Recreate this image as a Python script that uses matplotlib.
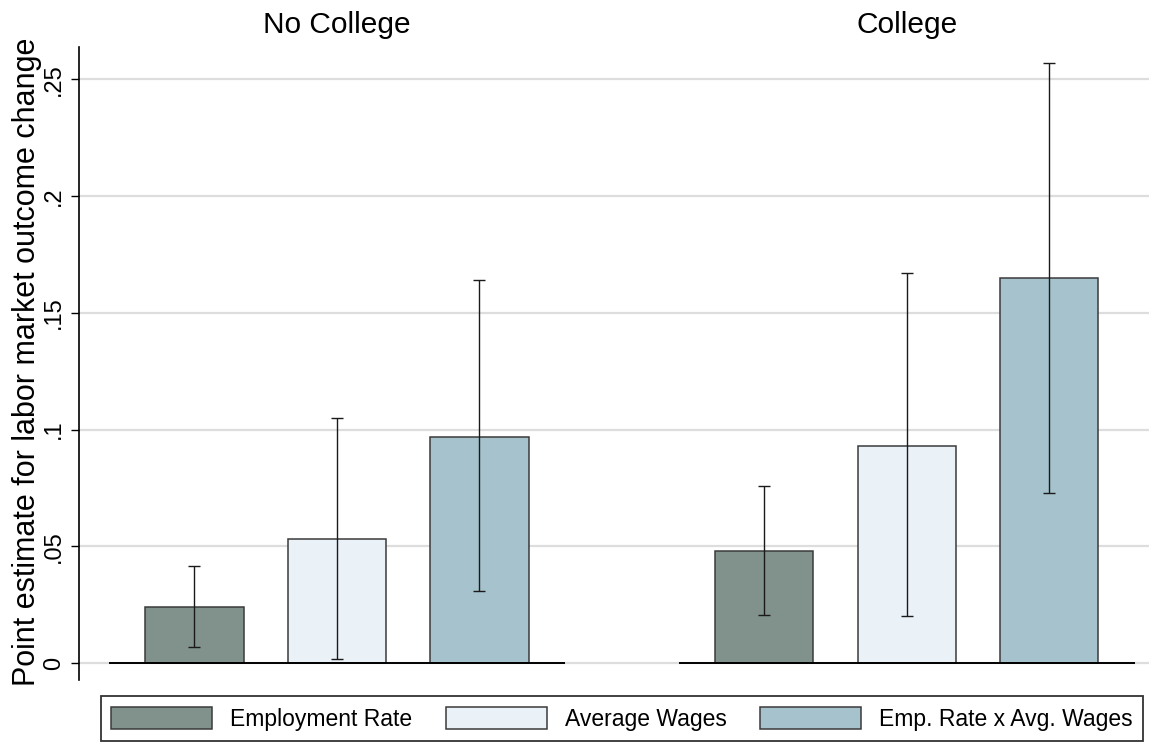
import numpy as np
import matplotlib.pyplot as plt
from matplotlib.patches import Patch

plt.rcParams['font.family'] = ['Liberation Sans', 'DejaVu Sans']

# groups and series
groups = ['No College', 'College']
series = ['Employment Rate', 'Average Wages', 'Emp. Rate x Avg. Wages']
colors = ['#80928b', '#eaf2f8', '#a6c2cc']

# point estimates, rows = groups, cols = series
estimates = np.array([
    [0.024, 0.053, 0.097],
    [0.048, 0.093, 0.165],
])
ci_low = np.array([
    [0.007, 0.0015, 0.031],
    [0.0205, 0.020, 0.073],
])
ci_high = np.array([
    [0.0415, 0.105, 0.164],
    [0.076, 0.167, 0.257],
])

fig = plt.figure(figsize=(11.49, 7.42), dpi=100)
ax = fig.add_axes([79 / 1149, 1 - 680 / 742, 1 - 79 / 1149, (680 - 47) / 742])

group_gap = 4.0
width = 0.69
for g in range(len(groups)):
    xs = g * group_gap + np.arange(len(series))
    for j in range(len(series)):
        ax.bar(xs[j], estimates[g][j], width=width, color=colors[j],
               edgecolor='#3a3a3a', linewidth=1.1, zorder=3)
    ax.errorbar(xs, estimates[g], yerr=[estimates[g] - ci_low[g], ci_high[g] - estimates[g]],
                fmt='none', ecolor='#1a1a1a', elinewidth=1.0, capsize=4.5,
                capthick=1.0, zorder=4)
    # baseline under each group
    ax.hlines(0, xs[0] - 0.6, xs[-1] + 0.6, color='black', linewidth=1.4, zorder=5)
    ax.text(xs[1], 0.2735, groups[g], ha='center', va='center', fontsize=21.5)

ax.set_xlim(-0.81, 6.70)
ax.set_ylim(-0.0073, 0.2639)
ax.set_yticks([0, 0.05, 0.1, 0.15, 0.2, 0.25])
ax.set_yticklabels(['0', '.05', '.1', '.15', '.2', '.25'], rotation=90, va='center')
ax.tick_params(axis='y', labelsize=17, length=6, width=1, pad=4)
ax.set_xticks([])
ax.grid(axis='y', color='#dddddd', linewidth=1.6, zorder=0)
ax.set_axisbelow(True)
for s in ['top', 'right', 'bottom']:
    ax.spines[s].set_visible(False)
ax.spines['left'].set_linewidth(1.2)
ax.set_ylabel('Point estimate for labor market outcome change', fontsize=22)
ax.yaxis.set_label_coords(-0.035, 0.502)

handles = [Patch(facecolor=c, edgecolor='#3a3a3a', linewidth=1.1) for c in colors]
leg = fig.legend(handles, series, loc='lower left', ncol=3, mode='expand',
                 bbox_to_anchor=(101 / 1149, 1 / 742, (1143 - 101) / 1149, 49 / 742),
                 fontsize=16.5, handlelength=4.4, handleheight=1.15,
                 handletextpad=0.8, borderaxespad=0, fancybox=False,
                 frameon=True, borderpad=0.45)
leg.get_frame().set_edgecolor('black')
leg.get_frame().set_linewidth(1.3)

fig.savefig('out.png', dpi=100)
